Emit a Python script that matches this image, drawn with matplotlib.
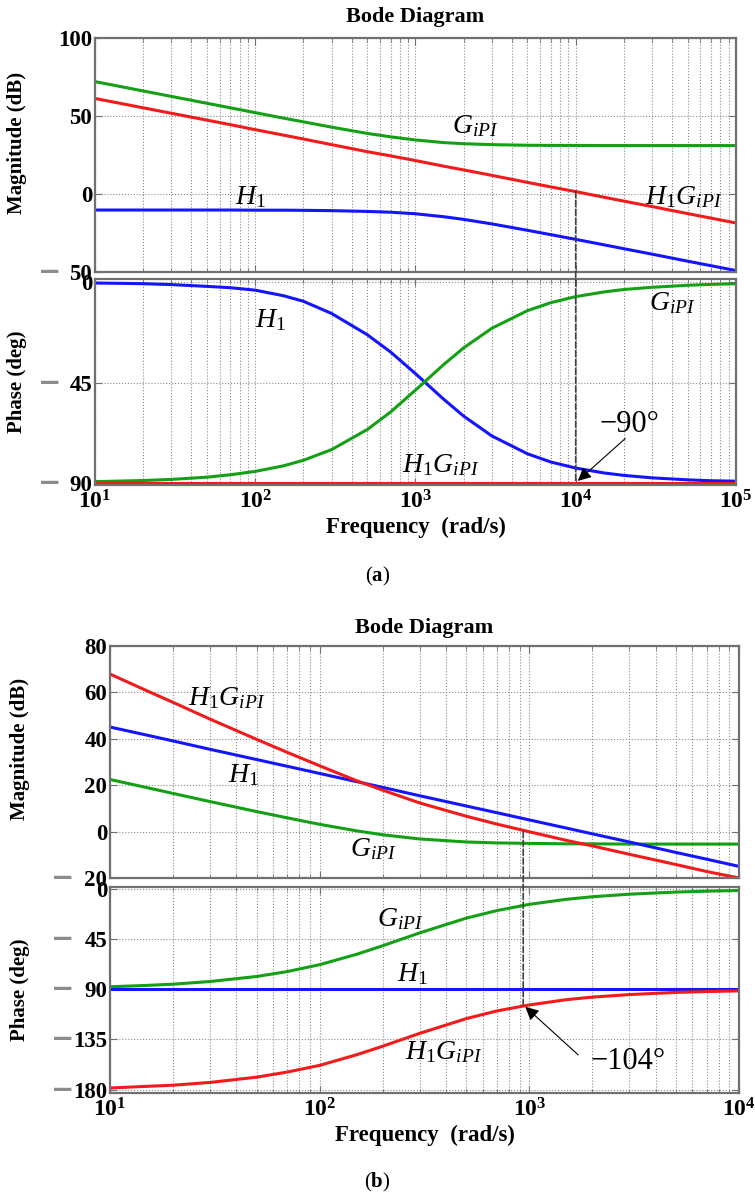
import matplotlib
matplotlib.use('Agg')
import matplotlib.pyplot as plt
from matplotlib.patches import ConnectionPatch
from matplotlib.ticker import NullFormatter

# ---- case (a): frequency points (rad/s) and responses ----
freq_a = [10, 15, 20, 30, 50, 70, 100, 150, 200, 300, 500, 700, 1000, 1500,
          2000, 3000, 5000, 7000, 1e4, 1.5e4, 2e4, 3e4, 5e4, 7e4, 1e5]
mag_g_a = [72.0, 68.5, 66.0, 62.5, 58.1, 55.2, 52.1, 48.6, 46.2, 42.8, 38.8,
           36.6, 34.6, 32.9, 32.2, 31.6, 31.2, 31.1, 31.1, 31.0, 31.0, 31.0,
           31.0, 31.0, 31.0]
mag_h_a = [-10.3, -10.3, -10.3, -10.3, -10.3, -10.3, -10.4, -10.4, -10.5,
           -10.7, -11.2, -11.7, -12.7, -14.6, -16.3, -19.2, -23.3, -26.1,
           -29.1, -32.6, -35.1, -38.6, -43.1, -46.0, -49.1]
mag_hg_a = [61.2, 57.7, 55.2, 51.7, 47.3, 44.4, 41.2, 37.7, 35.2, 31.6, 27.1,
            24.4, 21.4, 17.8, 15.4, 11.9, 7.4, 4.5, 1.5, -2.1, -4.6, -8.1,
            -12.6, -15.5, -18.6]
phase_g_a = [-89.5, -89.2, -89.0, -88.5, -87.5, -86.4, -84.9, -82.4, -79.9,
             -75.1, -66.1, -58.2, -48.4, -36.9, -29.4, -20.6, -12.7, -9.1,
             -6.4, -4.3, -3.2, -2.2, -1.3, -0.9, -0.6]
phase_h_a = [-0.3, -0.45, -0.6, -1.0, -1.8, -2.4, -3.5, -6.0, -8.5, -14.0,
             -23.5, -31.3, -41.0, -52.5, -60.1, -69.0, -77.0, -80.7, -83.4,
             -85.6, -86.7, -87.8, -88.7, -89.1, -89.3]
phase_hg_a = [-90.0, -90.0, -90.0, -90.0, -90.0, -90.0, -90.0, -90.0, -90.0,
              -90.0, -90.0, -90.0, -90.0, -90.0, -90.0, -90.0, -90.0, -90.0,
              -90.0, -90.0, -90.0, -90.0, -90.0, -90.0, -90.0]
wc_a = 1e4
mag_wc_a = 1.5
pm_a = -90

# ---- case (b) ----
freq_b = [10, 15, 20, 30, 50, 70, 100, 150, 200, 300, 500, 700, 1000, 1500,
          2000, 3000, 5000, 7000, 1e4]
mag_g_b = [22.4, 18.9, 16.4, 12.9, 8.6, 5.9, 3.1, 0.3, -1.4, -3.2, -4.5,
           -4.9, -5.1, -5.3, -5.3, -5.4, -5.4, -5.4, -5.4]
mag_h_b = [45.0, 41.5, 39.0, 35.4, 31.0, 28.1, 25.0, 21.5, 19.0, 15.4, 11.0,
           8.1, 5.0, 1.5, -1.0, -4.5, -9.0, -11.9, -15.0]
mag_hg_b = [67.8, 60.6, 55.6, 48.4, 39.7, 34.1, 28.3, 21.9, 17.8, 12.3, 6.6,
            3.2, -0.1, -3.8, -6.2, -9.8, -14.2, -17.2, -20.0]
phase_g_b = [-87.7, -86.5, -85.4, -83.0, -78.5, -74.1, -67.9, -58.6, -50.9,
             -39.4, -26.2, -19.4, -13.8, -9.3, -7.0, -4.7, -2.8, -2.0, -1.4]
phase_h_b = [-90.0, -90.0, -90.0, -90.0, -90.0, -90.0, -90.0, -90.0, -90.0,
             -90.0, -90.0, -90.0, -90.0, -90.0, -90.0, -90.0, -90.0, -90.0,
             -90.0]
phase_hg_b = [-178.5, -177.0, -176.0, -173.5, -168.8, -164.2, -158.2, -148.7,
              -141.0, -129.5, -116.3, -109.4, -104.0, -99.3, -97.0, -94.7,
              -92.8, -92.0, -91.4]
wc_b = 935
pm_b = -104

RED = '#f21a1a'
BLUE = '#1414ff'
GREEN = '#14a014'
GRID = '#8c8c8c'
FRAME = '#707070'

plt.rcParams['font.family'] = ['Liberation Serif', 'DejaVu Sans']
plt.rcParams['mathtext.fontset'] = 'custom'
plt.rcParams['mathtext.rm'] = 'Liberation Serif'
plt.rcParams['mathtext.it'] = 'Liberation Serif:italic'
plt.rcParams['mathtext.bf'] = 'Liberation Serif:bold'


def style_axes(ax, xlim, ylim, yticks, dash_x):
    ax.set_xscale('log')
    ax.set_xlim(xlim)
    ax.set_ylim(ylim)
    ax.set_yticks(yticks)
    # negative values get a separate grey minus in front of the number
    ax.set_yticklabels([str(abs(t)) for t in yticks], fontweight='bold',
                       fontsize=16.5)
    for t in yticks:
        if t < 0:
            ax.text(dash_x, t, '\u2212', transform=ax.get_yaxis_transform(),
                    ha='center', va='center', color=GRID, fontsize=20,
                    fontweight='bold', family='DejaVu Sans', clip_on=False)
    ax.grid(True, which='major', ls=':', color=GRID, lw=0.8)
    ax.grid(True, which='minor', axis='x', ls=':', color=GRID, lw=0.8)
    ax.xaxis.set_minor_formatter(NullFormatter())
    ax.tick_params(which='both', direction='in', top=True, right=True,
                   color=FRAME)
    ax.tick_params(which='major', length=5)
    ax.tick_params(which='minor', length=3)
    ax.tick_params(axis='y', pad=2)
    for s in ax.spines.values():
        s.set_color(FRAME)
        s.set_linewidth(1.6)


def set_decades(ax, decades):
    ax.set_xticks([10.0 ** d for d in decades])
    ax.set_xticklabels([r'$\mathbf{10^{%d}}$' % d for d in decades],
                       fontsize=17)


def label(ax, x, y, s, size=20):
    ax.text(x, y, s, fontsize=size, va='baseline', ha='left')


fig = plt.figure(figsize=(7.55, 11.96), dpi=100)

# ================= (a) =================
ax1 = fig.add_axes([0.1258, 0.7726, 0.849, 0.1957])
ax2 = fig.add_axes([0.1258, 0.5945, 0.849, 0.1722])

ax1.plot(freq_a, mag_g_a, color=GREEN, lw=2.2)
ax1.plot(freq_a, mag_hg_a, color=RED, lw=2.2)
ax1.plot(freq_a, mag_h_a, color=BLUE, lw=2.2)
style_axes(ax1, (10, 1e5), (-50, 100), [-50, 0, 50, 100], -0.07)
set_decades(ax1, [1, 2, 3, 4, 5])
ax1.tick_params(labelbottom=False)
ax1.set_ylabel('Magnitude (dB)', fontweight='bold', fontsize=15)
ax1.yaxis.set_label_coords(-0.106, 0.55)
label(ax1, 75, -6.4, r'$H_1$')
label(ax1, 1700, 39, r'$G_{iPI}$')
label(ax1, 27000, -6.4, r'$H_1G_{iPI}$')

ax2.plot(freq_a, phase_h_a, color=BLUE, lw=2.2)
ax2.plot(freq_a, phase_g_a, color=GREEN, lw=2.2)
ax2.plot(freq_a, phase_hg_a, color=RED, lw=2.2)
style_axes(ax2, (10, 1e5), (-91, 1.5), [-90, -45, 0], -0.07)
set_decades(ax2, [1, 2, 3, 4, 5])
ax2.set_ylabel('Phase (deg)', fontweight='bold', fontsize=15)
ax2.yaxis.set_label_coords(-0.106, 0.5)
label(ax2, 100, -20, r'$H_1$')
label(ax2, 28600, -12.5, r'$G_{iPI}$')
label(ax2, 820, -85, r'$H_1G_{iPI}$')
ax2.text(14000, -67, '\u2212%d\u00b0' % abs(pm_a), fontsize=22,
         va='baseline', ha='left')
ax2.annotate('', xy=(wc_a, pm_a), xytext=(21000, -69.3),
             arrowprops=dict(arrowstyle='-|>', color='k', lw=0.8,
                             mutation_scale=20))

con = ConnectionPatch(xyA=(wc_a, mag_wc_a), coordsA=ax1.transData,
                      xyB=(wc_a, pm_a), coordsB=ax2.transData,
                      ls='--', color='#404040', lw=1.2)
fig.add_artist(con)

fig.text(0.5503, 0.9858, 'Bode Diagram', ha='center', va='center',
         fontweight='bold', fontsize=16)
fig.text(0.5503, 0.5594, 'Frequency  (rad/s)', ha='center', va='center',
         fontweight='bold', fontsize=16.5)
fig.text(0.5, 0.5184, r'($\mathbf{a}$)', ha='center', va='center',
         fontsize=15)

# ================= (b) =================
ax3 = fig.add_axes([0.1457, 0.2659, 0.8331, 0.1942])
ax4 = fig.add_axes([0.1457, 0.0861, 0.8331, 0.1725])

ax3.plot(freq_b, mag_g_b, color=GREEN, lw=2.2)
ax3.plot(freq_b, mag_h_b, color=BLUE, lw=2.2)
ax3.plot(freq_b, mag_hg_b, color=RED, lw=2.2)
style_axes(ax3, (10, 1e4), (-20, 80), [-20, 0, 20, 40, 60, 80], -0.076)
set_decades(ax3, [1, 2, 3, 4])
ax3.tick_params(labelbottom=False)
ax3.set_ylabel('Magnitude (dB)', fontweight='bold', fontsize=15)
ax3.yaxis.set_label_coords(-0.127, 0.555)
label(ax3, 23.6, 54.4, r'$H_1G_{iPI}$')
label(ax3, 36.5, 21.2, r'$H_1$')
label(ax3, 139, -10.4, r'$G_{iPI}$')

ax4.plot(freq_b, phase_g_b, color=GREEN, lw=2.2)
ax4.plot(freq_b, phase_h_b, color=BLUE, lw=2.2)
ax4.plot(freq_b, phase_hg_b, color=RED, lw=2.2)
style_axes(ax4, (10, 1e4), (-183, 2), [-180, -135, -90, -45, 0], -0.076)
set_decades(ax4, [1, 2, 3, 4])
ax4.set_ylabel('Phase (deg)', fontweight='bold', fontsize=15)
ax4.yaxis.set_label_coords(-0.127, 0.5)
label(ax4, 187, -33.6, r'$G_{iPI}$')
label(ax4, 233, -82.8, r'$H_1$')
label(ax4, 255, -152.7, r'$H_1G_{iPI}$')
ax4.text(1950, -161.6, '\u2212%d\u00b0' % abs(pm_b), fontsize=22,
         va='baseline', ha='left')
ax4.annotate('', xy=(wc_b, pm_b), xytext=(1750, -150.5),
             arrowprops=dict(arrowstyle='-|>', color='k', lw=0.8,
                             mutation_scale=20))

con = ConnectionPatch(xyA=(wc_b, 0), coordsA=ax3.transData,
                      xyB=(wc_b, pm_b), coordsB=ax4.transData,
                      ls='--', color='#404040', lw=1.2)
fig.add_artist(con)

fig.text(0.5623, 0.4749, 'Bode Diagram', ha='center', va='center',
         fontweight='bold', fontsize=16)
fig.text(0.5623, 0.0507, 'Frequency  (rad/s)', ha='center', va='center',
         fontweight='bold', fontsize=16.5)
fig.text(0.5, 0.0117, r'($\mathbf{b}$)', ha='center', va='center',
         fontsize=15)

fig.savefig('out.png', dpi=100)
